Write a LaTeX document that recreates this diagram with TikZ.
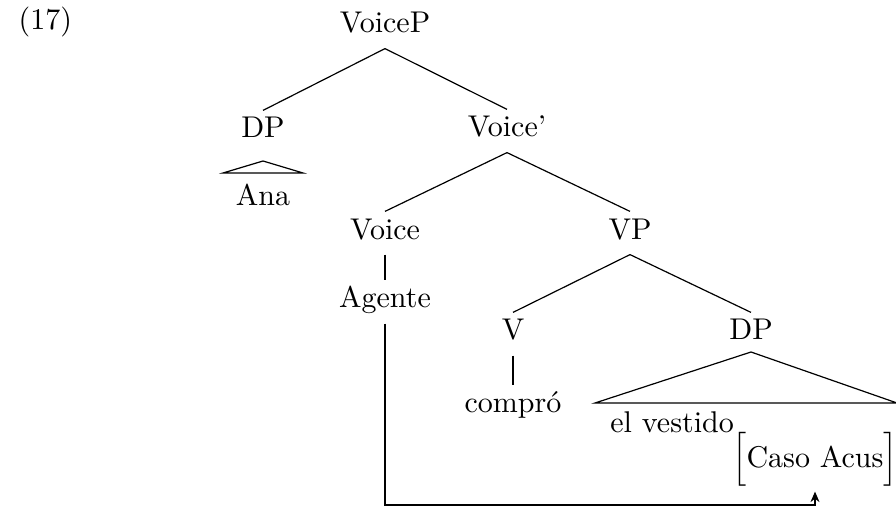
\documentclass[tikz,border=0pt]{standalone}
\usepackage{fontspec}
\usepackage{amsmath}
\usepackage{tikz}
\usetikzlibrary{positioning,arrows.meta}

\begin{document}
\begin{tikzpicture}[
  x=0.3333pt, y=-0.3333pt,
  cat/.style={
    anchor=base, inner sep=0pt,
    text height=9pt, text depth=5pt
  },
  feat/.style={
    anchor=base, inner sep=1.5pt
  },
  roof/.style={line width=0.4pt},
  link/.style={
    line width=0.4pt,
    -{Stealth[length=3.5pt,width=3pt]}
  }
]
\useasboundingbox (0,0) rectangle (896,507);

\node[anchor=base west] (exnum) at (8,30) {(17)};

% tree nodes
\node[cat] (voicep) at (385,33) {VoiceP};
\node[cat] (dp1) at (263,138) {DP};
\node[cat] (voicebar) at (507,137) {Voice'};
\node[cat] (voice) at (385,239) {Voice};
\node[cat] (vp) at (630,239) {VP};
\node[cat] (agente) at (385,308) {Agente};
\node[cat] (v) at (513,340) {V};
\node[cat] (dp2) at (751,340) {DP};
\node[cat] (compro) at (513,413) {compró};

% roofs
\coordinate (roof1) at (263,161);
\draw[roof] (roof1) -- ++(-40,12) -- ++(80,0) -- cycle;
\node[cat] (ana) at (263,205) {Ana};

\coordinate (roof2) at (751,352);
\draw[roof] (roof2) -- ++(-156,51) -- ++(302,0) -- cycle;
\node[cat] (vestido) at (672,432) {el vestido};
\node[feat] (caso) at (815,467) {$\Bigl[\text{Caso Acus}\Bigr]$};

% branches
\draw (voicep.south) -- (dp1.north);
\draw (voicep.south) -- (voicebar.north);
\draw (voicebar.south) -- (voice.north);
\draw (voicebar.south) -- (vp.north);
\draw (voice.south) -- (agente.north);
\draw (vp.south) -- (v.north);
\draw (vp.south) -- (dp2.north);
\draw (v.south) -- (compro.north);

% case link
\coordinate (turn) at (385,505);
\draw[link] (agente.south) -- (turn) -| (caso.south);

\end{tikzpicture}
\end{document}
